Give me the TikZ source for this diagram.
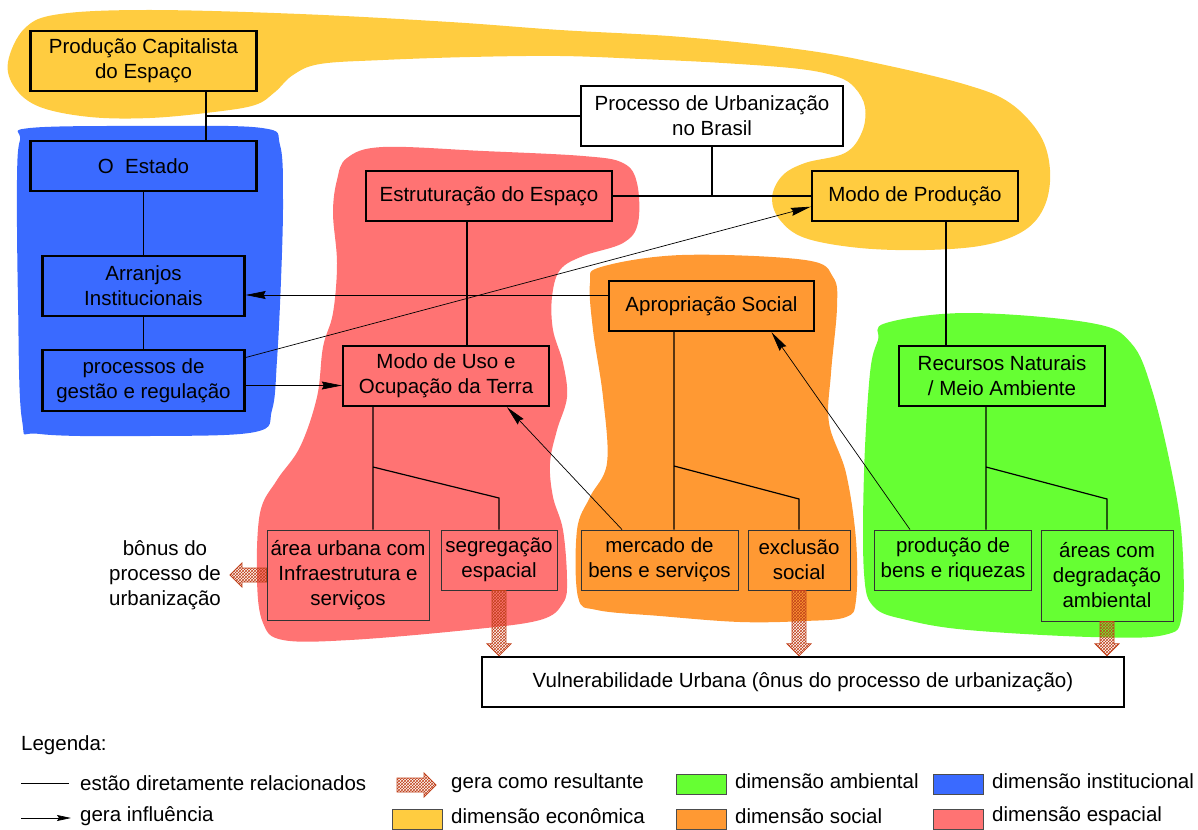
\documentclass[tikz,border=0pt]{standalone}
\usepackage{fontspec}
\setmainfont{Liberation Sans}
\usetikzlibrary{arrows.meta,calc,patterns}
\definecolor{amarelo}{HTML}{FFCC40}
\definecolor{azul}{HTML}{3A6AFF}
\definecolor{rosa}{HTML}{FF7373}
\definecolor{laranja}{HTML}{FF9933}
\definecolor{verde}{HTML}{66FF33}
\definecolor{tijolo}{HTML}{C0401A}
\tikzset{
  caixa/.style={draw,line width=2.4pt,align=center,inner sep=2pt,font=\fontsize{20.5}{25}\selectfont},
  caixafina/.style={draw=black!80,line width=0.9pt,align=center,inner sep=2pt,font=\fontsize{20.5}{25}\selectfont},
  legenda/.style={anchor=west,inner sep=0pt,font=\fontsize{20.5}{25}\selectfont},
  liga/.style={line width=1.2pt},
  influencia/.style={line width=0.7pt,-{Stealth[length=20pt,width=8pt,inset=2pt]}},
  resultante/.style={draw=tijolo,line width=0.8pt,pattern=crosshatch,pattern color=tijolo}
}
% seta hachurada "gera como resultante"
\newcommand{\gera}[2]{%
\path[resultante] let \p1=(#1), \p2=(#2), \n1={atan2(\y2-\y1,\x2-\x1)}, \n2={veclen(\x2-\x1,\y2-\y1)-12} in
  ($(\p1)+(\n1+90:7pt)$) -- ($(\p1)+(\n1:\n2)+(\n1+90:7pt)$) -- ($(\p1)+(\n1:\n2)+(\n1+90:12pt)$) -- (\p2)
  -- ($(\p1)+(\n1:\n2)+(\n1-90:12pt)$) -- ($(\p1)+(\n1:\n2)+(\n1-90:7pt)$) -- ($(\p1)+(\n1-90:7pt)$) -- cycle;}

\begin{document}
\begin{tikzpicture}[x=1pt,y=-1pt]
\useasboundingbox (0,0) rectangle (1198,829);
% manchas das dimensoes
\fill[amarelo] plot[smooth cycle,tension=.6] coordinates {(8,62) (25,28) (60,14) (150,10) (300,14) (450,22) (560,30) (682,37) (804,50) (885,65) (967,85) (1010,103) (1040,135) (1050,170) (1045,205) (1025,230) (985,245) (926,250) (860,248) (805,238) (780,220) (772,198) (782,176) (805,163) (845,153) (862,132) (865,107) (855,88) (838,77) (800,69) (723,63) (641,59) (560,56) (470,57) (383,60) (320,64) (293,75) (275,92) (255,105) (214,112) (150,118) (90,117) (40,107) (15,88)};
\fill[azul] plot[smooth cycle,tension=.6] coordinates {(30,128) (150,126) (262,128) (280,145) (283,200) (281,280) (277,360) (272,410) (255,432) (150,436) (40,434) (22,420) (18,300) (17,180) (20,140)};
\fill[rosa] plot[smooth cycle,tension=.6] coordinates {(347,158) (383,147) (483,151) (583,156) (623,163) (637,183) (638,223) (623,243) (583,256) (560,270) (552,297) (553,330) (563,363) (567,397) (557,430) (550,463) (553,497) (563,530) (567,580) (563,603) (540,620) (467,630) (350,640) (283,640) (263,623) (257,580) (260,513) (277,480) (300,447) (317,397) (323,347) (333,313) (337,263) (333,213) (337,180)};
\fill[laranja] plot[smooth cycle,tension=.6] coordinates {(601,267) (682,255) (805,260) (833,277) (837,307) (831,373) (829,423) (846,473) (856,540) (856,600) (846,617) (805,621) (740,622) (660,616) (597,610) (578,597) (577,530) (590,497) (607,463) (603,397) (593,330) (590,283)};
\fill[verde] plot[smooth cycle,tension=.6] coordinates {(886,323) (968,313) (1091,323) (1131,343) (1152,390) (1172,473) (1182,540) (1182,615) (1164,635) (1091,637) (968,630) (907,620) (874,607) (864,573) (864,473) (870,373) (878,340)};

% caixas
\node[caixa,fill=amarelo,minimum width=226,minimum height=60] (prodcap) at (143.5,61) {Produção Capitalista\\do Espaço};
\node[caixa,fill=white,minimum width=262,minimum height=60] (processo) at (712,116) {Processo de Urbanização\\no Brasil};
\node[caixa,fill=azul,minimum width=226,minimum height=50] (estado) at (143.5,166) {O\ \ Estado};
\node[caixa,fill=rosa,minimum width=246,minimum height=50] (estrut) at (489,196) {Estruturação do Espaço};
\node[caixa,fill=amarelo,minimum width=206,minimum height=50] (modoprod) at (915,196) {Modo de Produção};
\node[caixa,fill=azul,minimum width=202,minimum height=60] (arranjos) at (143.5,286) {Arranjos\\Institucionais};
\node[caixa,fill=laranja,minimum width=205,minimum height=50] (aprop) at (711.5,306) {Apropriação Social};
\node[caixa,fill=azul,minimum width=202,minimum height=61] (processos) at (143.5,380.5) {processos de\\gestão e regulação};
\node[caixa,fill=rosa,minimum width=206,minimum height=60] (modouso) at (446,376) {Modo de Uso e\\Ocupação da Terra};
\node[caixa,fill=verde,minimum width=206,minimum height=60] (recursos) at (1002,376) {Recursos Naturais\\/ Meio Ambiente};
\node[caixafina,fill=rosa,minimum width=162,minimum height=90] (area) at (348,575) {área urbana com\\Infraestrutura e\\serviços};
\node[caixafina,fill=rosa,minimum width=116,minimum height=60] (segreg) at (499,560) {segregação\\espacial};
\node[caixafina,fill=laranja,minimum width=157,minimum height=60] (mercado) at (659.5,560) {mercado de\\bens e serviços};
\node[caixafina,fill=laranja,minimum width=102,minimum height=60] (exclusao) at (799,560) {exclusão\\social};
\node[caixafina,fill=verde,minimum width=157,minimum height=60] (producao) at (953,560) {produção de\\bens e riquezas};
\node[caixafina,fill=verde,minimum width=132,minimum height=91] (areas) at (1107,575.5) {áreas com\\degradação\\ambiental};
\node[caixa,fill=white,minimum width=642,minimum height=50] (vuln) at (803,682) {Vulnerabilidade Urbana (ônus do processo de urbanização)};
\node[legenda,anchor=center,align=center] (bonus) at (165,575) {bônus do\\processo de\\urbanização};

% estao diretamente relacionados
\coordinate (j1) at (206,116);
\draw[liga] (prodcap.south -| j1) -- (estado.north -| j1) (j1) -- (processo.west);
\draw[liga] (processo.south) -- (processo.south |- estrut.east) (estrut.east) -- (modoprod.west);
\draw[liga] (estado) -- (arranjos) -- (processos);
\draw[liga] ([xshift=-22pt]estrut.south) -- ([xshift=21pt]modouso.north);
\draw[liga] ([xshift=31pt]modoprod.south) -- ([xshift=-56pt]recursos.north);
\coordinate (n1) at (373,467);
\coordinate (n2) at (674,466);
\coordinate (n3) at (986,467);
\draw[liga] ([xshift=-73pt]modouso.south) -- ([xshift=25pt]area.north) (n1) -- (499,498) -- (segreg.north);
\draw[liga] ([xshift=-37.5pt]aprop.south) -- ([xshift=14.5pt]mercado.north) (n2) -- (799,499) -- (exclusao.north);
\draw[liga] ([xshift=-16pt]recursos.south) -- ([xshift=33pt]producao.north) (n3) -- (1107,499) -- (areas.north);

% gera influencia
\draw[influencia] ([yshift=11pt]aprop.west) coordinate (ap) -- (ap -| arranjos.east);
\draw[influencia] ([yshift=-5pt]processos.east) coordinate (pr) -- (pr -| modouso.west);
\draw[influencia] ([yshift=23pt]processos.east) -- ([yshift=-10.7pt]modoprod.west);
\draw[influencia] ([xshift=-37.5pt]mercado.north) -- ([xshift=61pt]modouso.south);
\draw[influencia] ([xshift=-43pt]producao.north) -- ([xshift=60pt]aprop.south);

% gera como resultante
\gera{area.west}{[xshift=9pt]bonus.east}
\gera{segreg.south}{segreg.south |- vuln.north}
\gera{exclusao.south}{exclusao.south |- vuln.north}
\gera{areas.south}{areas.south |- vuln.north}

% legenda
\node[legenda] (legtitulo) at (21,745) {Legenda:};
\coordinate (l1) at (21,783);
\coordinate (l2) at (21,818);
\draw[line width=1pt] (l1) -- ++(48,0);
\draw[influencia,-{Stealth[length=14pt,width=6pt,inset=2pt]}] (l2) -- ++(50,0);
\node[legenda] (legliga) at (80,783) {estão diretamente relacionados};
\node[legenda] (leginfl) at (80,816) {gera influência};
\coordinate (r0) at (397,785);
\coordinate (r1) at (436,785);
\gera{r0}{r1}
\node[legenda] (legres) at (451,783) {gera como resultante};
\foreach \x/\y/\cor/\texto in {676/783/verde/dimensão ambiental,933/783/azul/dimensão institucional,392/818/amarelo/dimensão econômica,676/818/laranja/dimensão social,933/818/rosa/dimensão espacial}{
  \draw[fill=\cor,draw=black!70,line width=0.8pt] (\x,\y-9) rectangle (\x+50,\y+11);
  \node[legenda] (leg\cor) at (\x+59,\y-2) {\texto};
}
\end{tikzpicture}
\end{document}
